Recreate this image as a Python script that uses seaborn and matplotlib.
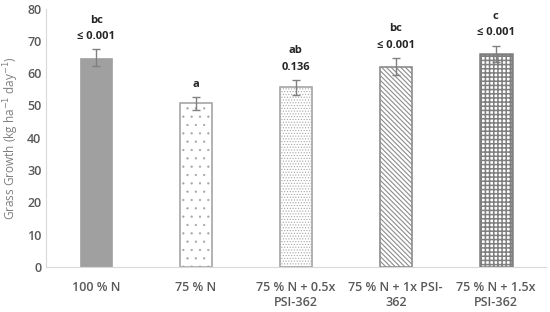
import numpy as np
import pandas as pd
import matplotlib
matplotlib.use('Agg')
import matplotlib.pyplot as plt
import seaborn as sns

treatments = ['100 % N', '75 % N', '75 % N + 0.5x\nPSI-362', '75 % N + 1x PSI-\n362', '75 % N + 1.5x\nPSI-362']
growth = [64.8, 50.7, 55.6, 62.0, 66.0]
growth_err = [2.6, 2.0, 2.3, 2.7, 2.6]
letters = ['bc', 'a', 'ab', 'bc', 'c']
p_values = ['≤ 0.001', '', '0.136', '≤ 0.001', '≤ 0.001']

hatches = ['', '..', '......', '\\' * 7, '+' * 4]
faces = ['#a0a0a0', 'white', 'white', 'white', 'white']
edges = ['#a0a0a0', '#a6a6a6', '#a6a6a6', '#8c8c8c', '#7f7f7f']
edge_widths = [0.5, 1.2, 1.2, 1.2, 1.8]
hatch_widths = [0.5, 0.4, 0.5, 0.8, 1.1]

sns.set_style('white')
plt.rcParams['font.family'] = ['Open Sans', 'DejaVu Sans']
plt.rcParams['hatch.linewidth'] = 0.7

df = pd.DataFrame({'treatment': treatments, 'growth': growth})

fig, ax = plt.subplots(figsize=(5.5, 3.12), dpi=100)
sns.barplot(data=df, x='treatment', y='growth', width=0.32, color='white', ax=ax)

for patch, h, fc, ec, lw, hw in zip(ax.patches, hatches, faces, edges, edge_widths, hatch_widths):
    patch.set_facecolor(fc)
    patch.set_edgecolor(ec)
    patch.set_linewidth(lw)
    patch.set_hatch(h)
    if hasattr(patch, 'set_hatch_linewidth'):
        patch.set_hatch_linewidth(hw)

xpos = np.arange(len(treatments))
ax.errorbar(xpos, growth, yerr=growth_err, fmt='none', ecolor='#808080',
            elinewidth=1.0, capsize=3, capthick=1.0)

for i, (lab, p) in enumerate(zip(letters, p_values)):
    top = growth[i] + growth_err[i]
    if p:
        ax.text(i, top + 2.2, p, ha='center', va='bottom', fontsize=8, fontweight='bold')
        ax.text(i, top + 7.4, lab, ha='center', va='bottom', fontsize=8, fontweight='bold')
    else:
        ax.text(i, top + 2.2, lab, ha='center', va='bottom', fontsize=8, fontweight='bold')

ax.set_ylim(0, 80)
ax.set_yticks(range(0, 81, 10))
ax.set_xlim(-0.5, 4.5)
ax.set_xlabel('')
ax.set_ylabel('Grass Growth (kg ha$^{-1}$ day$^{-1}$)', color='#7f7f7f', fontsize=8.5)
ax.tick_params(axis='both', colors='#595959', labelsize=9, length=0)
ax.tick_params(axis='x', pad=10)
for t in ax.get_xticklabels():
    t.set_fontweight('semibold')
for t in ax.get_yticklabels():
    t.set_fontweight('semibold')

sns.despine(ax=ax)
ax.spines['left'].set_color('#d9d9d9')
ax.spines['bottom'].set_color('#d9d9d9')

fig.subplots_adjust(left=0.084, right=0.992, top=0.972, bottom=0.145)
fig.savefig('out.png', dpi=100)
plt.close(fig)
